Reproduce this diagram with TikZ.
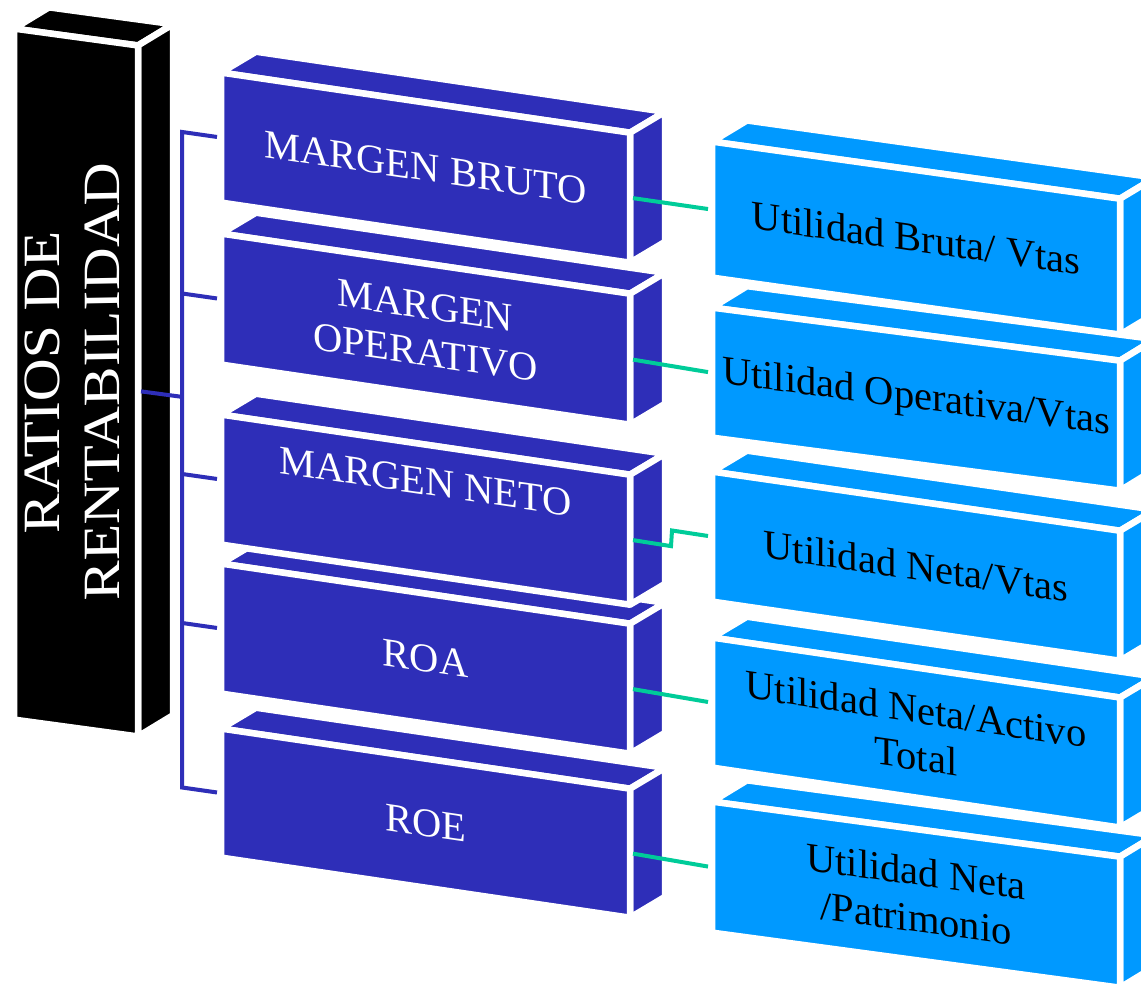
\documentclass[tikz,border=0pt]{standalone}
\usepackage{fontspec}
\setmainfont{Liberation Serif}
\usetikzlibrary{calc}
\definecolor{deep}{HTML}{2E2EB8}
\definecolor{sky}{HTML}{0099FF}
\definecolor{mint}{HTML}{00CC99}

% depth of every block (local units, before the slant)
\newcommand{\depthx}{35}
\newcommand{\depthy}{26}

% #1 name, #2/#3 top-left of the front face, #4 width, #5 height,
% #6 slant of the front face, #7 fill, #8 text options, #9 text
\newcommand{\cuboid}[9]{%
  \begin{scope}[shift={(#2,#3)}, yslant=-#6]
    \path[face, fill=#7] (-3,-3) -- (#4+3,-3) -- (#4+3+\depthx,-3-\depthy)
      -- (-3+\depthx,-3-\depthy) -- cycle;
    \path[face, fill=#7] (#4+3,-3) -- (#4+3+\depthx,-3-\depthy)
      -- (#4+3+\depthx,#5+3-\depthy) -- (#4+3,#5+3) -- cycle;
    \path[face, fill=#7] (-3,-3) rectangle (#4+3,#5+3);
    \node[boxtext, #8] (#1) at (#4/2,#5/2) {#9};
    \coordinate (#1-w) at (-7,#5/2);
    \coordinate (#1-e) at (#4+6,#5/2);
  \end{scope}}

\tikzset{
  face/.style={draw=white, line width=6.5, line join=round},
  boxtext/.style={font=\fontsize{40.5}{47}\selectfont, align=center,
    transform shape, inner sep=0pt},
  trunk/.style={draw=deep, line width=4},
  link/.style={draw=mint, line width=4}
}

\begin{document}
\begin{tikzpicture}[x=1pt, y=-1pt]
  \clip (0,0) rectangle (1141,988);
  \fill[white] (0,0) rectangle (1141,988);

  % title block (its upright, slightly condensed lettering undoes the face slant)
  \cuboid{r}{17}{32}{118}{685}{0.136}{black}
    {text=white, xshift=-4, xscale=0.88, yslant=0.136, rotate=90,
     font=\fontsize{59.5}{68}\selectfont}
    {RATIOS DE\\RENTABILIDAD}

  % ratio blocks
  \cuboid{d1}{224}{76}{403}{124}{0.147}{deep}{text=white}{MARGEN BRUTO}
  \cuboid{d2}{224}{237}{403}{125}{0.147}{deep}{text=white}{MARGEN\\OPERATIVO}
  \cuboid{d4}{224}{567}{403}{124}{0.147}{deep}{text=white}{ROA}
  \cuboid{d3}{224}{418}{403}{124}{0.147}{deep}{text=white, yshift=28}{MARGEN NETO}
  \cuboid{d5}{224}{732}{403}{123}{0.147}{deep}{text=white}{ROE}

  % formula blocks
  \cuboid{l1}{715}{145}{402}{130}{0.14}{sky}{text=black}{Utilidad Bruta/ Vtas}
  \cuboid{l2}{715}{311}{402}{124}{0.13}{sky}{text=black}{Utilidad Operativa/Vtas}
  \cuboid{l3}{715}{475}{402}{124}{0.145}{sky}{text=black}{Utilidad Neta/Vtas}
  \cuboid{l4}{715}{641}{402}{124}{0.147}{sky}{text=black}{Utilidad Neta/Activo\\Total}
  \cuboid{l5}{715}{805}{402}{125}{0.135}{sky}{text=black}{Utilidad Neta\\/Patrimonio}

  % bracket from the title to the ratios
  \draw[trunk] (d1-w) -- ($(d1-w)+(-35,-5)$) coordinate (t1)
    -- ($(d5-w)+(-35,-5)$) coordinate (t5) -- (d5-w);
  \draw[trunk] (d2-w) -- +(-35,-5);
  \draw[trunk] (d3-w) -- +(-35,-5);
  \draw[trunk] (d4-w) -- +(-35,-5);
  \draw[trunk] (r-e) -- ($(r-e)+(41,5.5)$) coordinate (hub);

  % ratio to formula links
  \draw[link] (d1-e) -- (l1-w);
  \draw[link] (d2-e) -- (l2-w);
  \draw[link] (d3-e) -- ++(38,6) -- ($(l3-w)+(-36,-5.5)$) -- (l3-w);
  \draw[link] (d4-e) -- (l4-w);
  \draw[link] (d5-e) -- (l5-w);
\end{tikzpicture}
\end{document}
